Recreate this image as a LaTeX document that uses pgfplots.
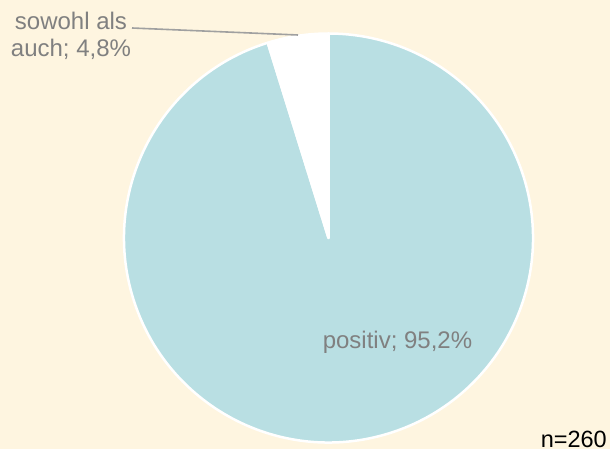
\documentclass[border=0pt]{standalone}
\usepackage{pgfplots}
\pgfplotsset{compat=1.18}
\usepackage{pgfplotstable}
\usepackage{fontspec}
\setmainfont{Liberation Sans}
\definecolor{bg}{HTML}{FEF5E0}
\definecolor{pieblue}{HTML}{B9DFE3}
\definecolor{labgray}{HTML}{808080}
\definecolor{leader}{HTML}{A0A0A0}
\pgfplotstableread{
label value
sowohl 4.8
positiv 95.2
}\piedata
\begin{document}
\begin{tikzpicture}
\pgfplotstablegetelem{0}{value}\of\piedata \let\va\pgfplotsretval
\pgfplotstablegetelem{1}{value}\of\piedata \let\vb\pgfplotsretval
\pgfmathsetmacro{\aone}{90+3.6*\va}
\pgfmathsetmacro{\atwo}{\aone+3.6*\vb}
\begin{axis}[x=1pt,y=1pt,xmin=0,xmax=610,ymin=0,ymax=449,hide axis,clip=false]
\fill[bg] (axis cs:0,0) rectangle (axis cs:610,449);
% positive slice
\filldraw[fill=pieblue,draw=white,line width=2.5pt,line join=round]
  (axis cs:328.5,211) -- ([shift={(\aone:204.5pt)}]axis cs:328.5,211)
  arc[start angle=\aone,end angle=\atwo,radius=204.5pt] -- cycle;
% sowohl als auch slice
\filldraw[fill=white,draw=white,line width=2.5pt,line join=round]
  (axis cs:328.5,211) -- ([shift={(90:204.5pt)}]axis cs:328.5,211)
  arc[start angle=90,end angle=\aone,radius=204.5pt] -- cycle;
\draw[leader,line width=1.6pt] (axis cs:132,421) -- (axis cs:298,414);
\node[anchor=base,text=labgray,font=\fontsize{24}{28}\selectfont,inner sep=0pt] at (axis cs:71,419.5) {sowohl als};
\node[anchor=base,text=labgray,font=\fontsize{24}{28}\selectfont,inner sep=0pt] at (axis cs:71,392) {auch; 4,8\%};
\node[anchor=base,text=labgray,font=\fontsize{24}{28}\selectfont,inner sep=0pt] at (axis cs:397.5,101) {positiv; 95,2\%};
\node[anchor=base east,text=black,font=\fontsize{23.5}{28}\selectfont,inner sep=0pt] at (axis cs:607,2) {n=260};
\end{axis}
\end{tikzpicture}
\end{document}
